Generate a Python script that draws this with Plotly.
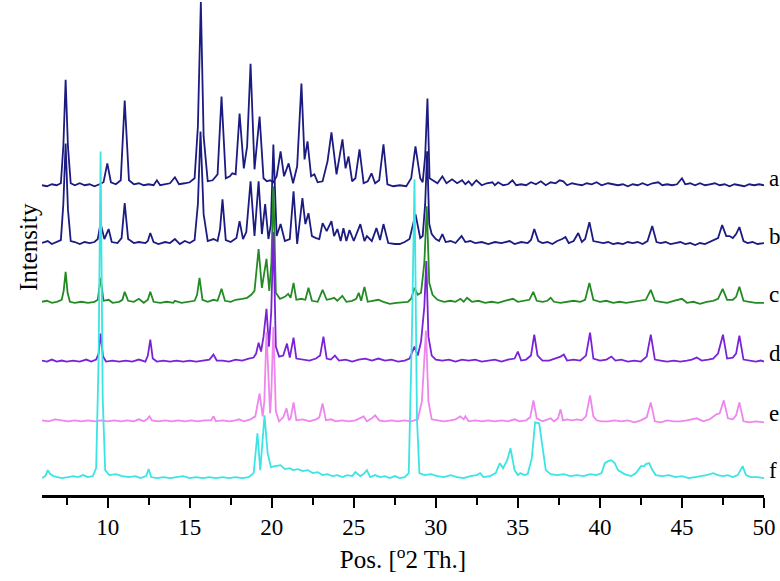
import plotly.graph_objects as go

# XRD patterns, (2theta, relative intensity)
pattern_a = [(6.0,1),(6.3,0),(6.6,2),(6.9,1),(7.15,3),(7.3,40),(7.44,107),(7.58,40),(7.75,3),(8.0,1),(8.3,3),(8.6,1),(8.9,2),(9.2,0),(9.5,2),(9.75,4),(9.98,23),(10.2,4),(10.5,2),(10.8,6),(11.04,86),(11.3,6),(11.6,2),(11.9,3),(12.2,1),(12.5,2),(12.8,1),(13.0,6),(13.2,1),(13.5,2),(13.8,3),(14.1,9),(14.35,2),(14.7,3),(15.0,4),(15.3,8),(15.5,60),(15.68,185),(15.85,50),(16.1,5),(16.4,6),(16.7,12),(16.94,90),(17.2,8),(17.45,10),(17.6,13),(17.8,12),(18.04,73),(18.3,18),(18.5,40),(18.71,123),(18.95,17),(19.26,70),(19.5,8),(19.7,5),(19.9,6),(20.1,4),(20.3,10),(20.54,35),(20.75,10),(21.03,23),(21.3,3),(21.55,20),(21.81,103),(22.0,27),(22.18,45),(22.4,10),(22.6,12),(22.8,4),(23.1,5),(23.4,25),(23.64,54),(23.95,12),(24.31,47),(24.5,18),(24.68,30),(24.9,5),(25.1,8),(25.35,37),(25.6,3),(25.85,5),(26.08,13),(26.3,3),(26.55,6),(26.81,42),(27.05,2),(27.4,0),(27.8,1),(28.2,0),(28.5,8),(28.76,40),(29.05,8),(29.2,4),(29.35,30),(29.49,88),(29.62,8),(29.8,6),(30.1,3),(30.4,10),(30.65,3),(30.99,7),(31.3,3),(31.6,6),(31.8,2),(32.0,5),(32.2,1),(32.47,6),(32.8,1),(33.1,3),(33.45,4),(33.6,1),(33.8,4),(34.1,1),(34.4,2),(34.67,6),(34.9,1),(35.2,2),(35.5,1),(35.8,4),(36.1,2),(36.4,5),(36.7,1),(37.0,4),(37.3,3),(37.55,6),(37.77,5),(38.0,1),(38.3,3),(38.6,2),(38.9,1),(39.2,3),(39.5,2),(39.8,4),(40.1,1),(40.5,3),(40.8,2),(41.1,1),(41.4,2),(41.7,0),(42.0,2),(42.3,1),(42.6,3),(42.9,1),(43.2,3),(43.56,4),(43.8,1),(44.1,2),(44.4,1),(44.7,2),(45.0,8),(45.2,2),(45.5,3),(45.8,1),(46.1,3),(46.4,1),(46.7,2),(47.0,3),(47.3,1),(47.6,2),(47.9,0),(48.2,2),(48.5,1),(48.8,0),(49.1,2),(49.4,1),(49.7,2),(50.0,1)]

pattern_b = [(6.0,1),(6.35,3),(6.6,0),(6.9,2),(7.15,4),(7.3,40),(7.44,101),(7.58,35),(7.75,3),(8.0,2),(8.3,0),(8.6,2),(8.9,1),(9.2,2),(9.4,5),(9.57,21),(9.8,5),(10.06,15),(10.25,2),(10.6,1),(10.85,6),(11.04,41),(11.25,5),(11.6,1),(11.9,2),(12.3,1),(12.45,3),(12.6,11),(12.8,2),(13.1,0),(13.5,2),(13.8,1),(14.1,5),(14.4,0),(14.7,3),(15.0,1),(15.3,4),(15.5,40),(15.66,113),(15.85,30),(16.1,3),(16.45,5),(16.7,3),(16.85,15),(17.0,45),(17.2,4),(17.5,2),(17.85,6),(18.04,23),(18.25,5),(18.45,12),(18.71,63),(18.95,8),(19.2,63),(19.4,10),(19.6,40),(19.8,5),(19.95,20),(20.1,100),(20.3,8),(20.54,20),(20.8,3),(21.1,5),(21.33,53),(21.55,0),(21.87,46),(22.05,20),(22.24,31),(22.45,8),(22.7,6),(22.9,5),(23.1,21),(23.35,13),(23.64,23),(23.8,8),(24.0,15),(24.2,3),(24.37,16),(24.55,3),(24.74,14),(25.0,3),(25.4,20),(25.65,3),(25.8,8),(26.1,3),(26.38,16),(26.6,4),(26.81,20),(27.1,1),(27.5,0),(27.8,0),(28.1,2),(28.4,5),(28.76,30),(29.05,6),(29.2,8),(29.35,40),(29.47,93),(29.6,20),(29.75,10),(30.0,5),(30.2,3),(30.4,10),(30.6,2),(30.9,3),(31.2,1),(31.57,8),(31.8,2),(32.1,3),(32.4,1),(32.8,2),(33.2,0),(33.6,2),(34.0,1),(34.5,3),(34.8,0),(35.2,2),(35.6,1),(35.8,4),(36.0,15),(36.25,3),(36.5,1),(36.8,2),(37.1,0),(37.4,3),(37.7,5),(37.9,7),(38.1,1),(38.4,3),(38.68,11),(38.9,2),(39.1,5),(39.36,22),(39.6,3),(39.9,2),(40.2,1),(40.5,2),(40.8,0),(41.1,1),(41.4,0),(41.7,2),(42.0,1),(42.3,2),(42.6,0),(42.9,3),(43.19,18),(43.45,2),(43.7,1),(44.0,2),(44.3,0),(44.6,1),(44.9,2),(45.2,0),(45.5,1),(45.8,-1),(46.1,1),(46.4,0),(46.7,2),(46.9,4),(47.2,6),(47.45,19),(47.7,8),(47.9,8),(48.1,6),(48.3,10),(48.5,17),(48.75,3),(49.0,1),(49.3,2),(49.6,0),(50.0,1)]

pattern_c = [(6.0,1),(6.3,2),(6.6,0),(6.9,1),(7.2,3),(7.32,12),(7.44,31),(7.56,10),(7.7,1),(8.0,0),(8.4,1),(8.8,0),(9.2,1),(9.4,3),(9.57,25),(9.75,2),(10.06,3),(10.3,0),(10.7,1),(10.9,3),(11.04,11),(11.25,2),(11.6,1),(11.9,4),(12.2,0),(12.45,3),(12.6,11),(12.8,1),(13.2,0),(13.6,1),(14.0,0),(14.1,2),(14.5,0),(14.9,1),(15.3,2),(15.45,8),(15.6,25),(15.78,3),(16.1,1),(16.45,3),(16.7,2),(16.94,14),(17.15,2),(17.5,1),(17.8,3),(18.2,4),(18.5,5),(18.75,8),(18.95,12),(19.2,54),(19.4,15),(19.68,44),(19.85,12),(19.98,40),(20.1,117),(20.25,10),(20.5,4),(20.8,6),(21.0,9),(21.15,5),(21.33,20),(21.5,3),(21.8,4),(22.05,3),(22.24,15),(22.45,2),(22.8,1),(23.1,13),(23.35,3),(23.6,4),(23.8,5),(24.0,2),(24.3,7),(24.55,1),(24.9,2),(25.15,4),(25.3,10),(25.45,2),(25.65,16),(25.85,1),(26.2,2),(26.5,3),(26.8,1),(27.2,-1),(27.6,0),(28.0,1),(28.3,1),(28.5,4),(28.7,15),(28.9,8),(29.1,10),(29.3,40),(29.45,97),(29.6,20),(29.8,8),(30.1,3),(30.5,1),(30.9,2),(31.2,1),(31.5,4),(31.7,1),(31.9,5),(32.2,1),(32.6,2),(33.0,0),(33.4,1),(33.8,0),(34.2,2),(34.7,4),(35.0,1),(35.4,2),(35.7,3),(35.94,11),(36.15,2),(36.5,1),(36.8,2),(37.0,5),(37.2,1),(37.6,0),(38.0,1),(38.4,2),(38.8,1),(39.1,3),(39.36,20),(39.6,3),(40.0,1),(40.4,2),(40.8,0),(41.2,1),(41.6,0),(42.0,1),(42.4,2),(42.8,3),(43.1,13),(43.35,2),(43.7,1),(44.1,0),(44.5,2),(45.0,4),(45.3,0),(45.7,1),(46.1,-1),(46.5,1),(46.9,2),(47.2,4),(47.48,14),(47.75,3),(48.1,3),(48.3,6),(48.5,16),(48.75,2),(49.1,1),(49.5,0),(50.0,0)]

pattern_d = [(6.0,1),(6.3,0),(6.6,2),(6.9,0),(7.2,1),(7.5,0),(7.9,1),(8.3,0),(8.7,2),(9.0,0),(9.3,2),(9.45,8),(9.57,28),(9.72,5),(9.9,0),(10.3,1),(10.7,0),(11.1,1),(11.5,0),(11.9,2),(12.3,0),(12.45,6),(12.6,22),(12.75,3),(13.0,0),(13.4,1),(13.8,0),(14.2,1),(14.6,0),(15.0,1),(15.4,0),(15.8,1),(16.2,2),(16.45,7),(16.65,1),(17.0,1),(17.4,0),(17.8,2),(18.2,1),(18.6,3),(18.9,4),(19.05,8),(19.2,19),(19.35,10),(19.5,25),(19.68,53),(19.83,15),(19.97,50),(20.1,130),(20.25,15),(20.45,5),(20.7,6),(20.93,18),(21.1,4),(21.33,24),(21.5,3),(21.9,2),(22.3,1),(22.7,3),(22.95,6),(23.15,25),(23.35,3),(23.6,2),(23.85,6),(24.1,1),(24.5,2),(24.9,0),(25.3,2),(25.7,3),(26.1,1),(26.5,3),(26.9,1),(27.3,2),(27.7,0),(28.1,1),(28.4,3),(28.7,15),(28.9,6),(29.1,20),(29.3,55),(29.42,101),(29.55,25),(29.75,6),(30.0,2),(30.4,1),(30.8,2),(31.2,0),(31.6,2),(32.0,1),(32.4,2),(32.8,0),(33.2,1),(33.6,2),(34.0,0),(34.4,2),(34.8,3),(35.0,10),(35.2,1),(35.5,2),(35.8,6),(36.0,27),(36.2,6),(36.5,1),(36.9,1),(37.3,3),(37.6,5),(37.8,7),(38.0,1),(38.4,2),(38.8,1),(39.15,6),(39.4,29),(39.6,3),(40.0,1),(40.4,2),(40.7,5),(40.95,1),(41.3,2),(41.7,0),(42.1,1),(42.5,0),(42.85,5),(43.1,27),(43.35,2),(43.7,1),(44.1,0),(44.5,1),(44.9,0),(45.3,1),(45.6,2),(45.9,4),(46.2,1),(46.6,2),(46.9,3),(47.2,8),(47.5,27),(47.75,3),(48.1,4),(48.3,8),(48.5,26),(48.75,2),(49.1,1),(49.5,0),(49.8,1),(50.0,0)]

pattern_e = [(6.0,1),(6.4,0),(6.8,2),(7.2,1),(7.6,0),(8.0,1),(8.4,0),(8.8,1),(9.2,0),(9.6,1),(10.0,0),(10.4,1),(10.8,0),(11.2,1),(11.6,0),(11.9,2),(12.2,0),(12.4,2),(12.55,5),(12.7,1),(13.1,0),(13.5,1),(13.9,0),(14.3,1),(14.7,0),(15.1,1),(15.5,0),(15.9,1),(16.3,1),(16.46,5),(16.6,0),(17.0,1),(17.4,0),(17.8,1),(18.0,2),(18.3,0),(18.7,2),(19.0,5),(19.26,28),(19.45,5),(19.55,20),(19.68,90),(19.82,25),(19.9,8),(19.98,30),(20.1,95),(20.25,10),(20.45,0),(20.7,4),(20.9,13),(21.05,1),(21.15,3),(21.33,19),(21.5,1),(21.9,2),(22.3,0),(22.7,2),(22.9,4),(23.1,18),(23.3,1),(23.6,2),(23.9,0),(24.3,1),(24.7,0),(25.1,1),(25.4,3),(25.6,5),(25.8,0),(26.1,3),(26.3,6),(26.55,1),(26.9,0),(27.3,1),(27.7,0),(28.1,1),(28.5,0),(28.9,2),(29.15,20),(29.4,91),(29.55,20),(29.75,2),(30.1,1),(30.5,0),(30.9,1),(31.2,2),(31.5,5),(31.7,2),(31.8,5),(32.0,0),(32.4,1),(32.8,0),(33.2,1),(33.6,0),(34.0,1),(34.4,0),(34.8,2),(35.1,0),(35.5,1),(35.75,4),(35.95,21),(36.15,3),(36.5,0),(36.8,2),(37.0,3),(37.2,0),(37.45,3),(37.6,12),(37.75,1),(38.0,2),(38.3,1),(38.6,2),(38.9,1),(39.15,5),(39.4,26),(39.6,5),(39.8,1),(40.1,0),(40.5,0),(40.9,1),(41.3,0),(41.7,1),(42.1,-1),(42.5,1),(42.85,4),(43.1,19),(43.35,0),(43.7,-1),(44.1,1),(44.5,0),(44.9,0),(45.3,1),(45.9,3),(46.3,0),(46.7,2),(47.1,7),(47.3,8),(47.55,21),(47.8,3),(48.1,2),(48.3,6),(48.5,19),(48.75,0),(49.1,-1),(49.5,0),(50.0,-1)]

pattern_f = [(6.0,0),(6.2,2),(6.35,8),(6.5,4),(6.7,2),(6.9,1),(7.2,0),(7.6,1),(7.9,2),(8.2,1),(8.5,3),(8.8,1),(9.1,2),(9.3,10),(9.45,120),(9.57,328),(9.7,80),(9.85,8),(10.1,3),(10.5,4),(10.9,2),(11.3,1),(11.7,2),(12.0,0),(12.35,2),(12.5,9),(12.65,1),(13.0,0),(13.4,1),(13.8,0),(14.2,1),(14.6,2),(15.0,0),(15.4,1),(15.8,0),(16.2,1),(16.6,0),(17.0,1),(17.4,0),(17.8,1),(18.2,0),(18.6,1),(18.9,5),(19.13,45),(19.3,8),(19.56,63),(19.75,25),(19.95,11),(20.2,12),(20.54,13),(20.8,9),(21.1,10),(21.3,8),(21.6,9),(21.9,7),(22.2,8),(22.5,5),(22.8,6),(23.1,3),(23.4,4),(23.7,2),(24.0,3),(24.3,1),(24.6,3),(24.9,2),(25.1,6),(25.4,2),(25.6,4),(25.8,8),(26.0,1),(26.3,3),(26.6,1),(26.9,2),(27.2,0),(27.5,2),(27.8,0),(28.1,1),(28.35,5),(28.55,150),(28.7,300),(28.85,60),(29.0,5),(29.3,3),(29.7,4),(30.1,2),(30.5,1),(30.9,3),(31.3,1),(31.7,0),(32.1,2),(32.5,3),(32.7,5),(32.9,1),(33.3,2),(33.65,5),(33.9,15),(34.1,10),(34.35,18),(34.55,30),(34.8,8),(35.0,3),(35.15,5),(35.4,3),(35.6,4),(35.85,20),(36.05,56),(36.3,55),(36.5,30),(36.7,8),(37.0,4),(37.4,3),(37.8,4),(38.2,2),(38.6,3),(39.0,2),(39.4,4),(39.8,3),(40.1,5),(40.3,15),(40.5,17),(40.7,18),(40.9,15),(41.1,8),(41.5,4),(41.9,2),(42.2,5),(42.5,12),(42.7,12),(42.8,14),(43.0,15),(43.2,8),(43.4,3),(43.8,2),(44.2,3),(44.6,1),(45.0,2),(45.4,0),(45.8,1),(46.2,2),(46.5,3),(46.9,5),(47.2,3),(47.5,2),(47.8,3),(48.1,1),(48.4,3),(48.7,12),(48.9,3),(49.2,1),(49.6,1),(50.0,0)]

labels = ['a', 'b', 'c', 'd', 'e', 'f']
patterns = [pattern_a, pattern_b, pattern_c, pattern_d, pattern_e, pattern_f]
offsets = [310, 252, 193, 134, 74, 17]
colors = ['#1b1b82', '#1b1b82', '#238b23', '#7a22d8', '#ee86ee', '#3ce4e4']

FONT = 'Liberation Serif'

fig = go.Figure()

for lab, pat, off, col in zip(labels, patterns, offsets, colors):
    xs = [p[0] for p in pat]
    ys = [p[1] + off for p in pat]
    fig.add_trace(go.Scatter(x=xs, y=ys, mode='lines', name=lab,
                             line=dict(color=col, width=1.8), hoverinfo='skip'))
    fig.add_annotation(x=1.0, xref='paper', xshift=3, xanchor='left',
                       y=off + 8, yref='y', yanchor='middle', text=lab,
                       showarrow=False, font=dict(family=FONT, size=23, color='black'))

fig.add_annotation(x=0, xref='paper', xshift=-29, y=0.5, yref='paper',
                   text='Intensity', textangle=-90, showarrow=False,
                   font=dict(family=FONT, size=25, color='black'))

fig.update_layout(
    width=780, height=581,
    showlegend=False,
    plot_bgcolor='white', paper_bgcolor='white',
    margin=dict(l=42, r=16, t=0, b=86),
    xaxis=dict(range=[6, 50], tickvals=[10, 15, 20, 25, 30, 35, 40, 45, 50],
               ticks='outside', ticklen=10, tickwidth=2, tickcolor='black',
               minor=dict(tickvals=[7.5, 12.5, 17.5, 22.5, 27.5, 32.5, 37.5, 42.5, 47.5],
                          ticks='outside', ticklen=7, tickwidth=2, tickcolor='black'),
               showline=True, linewidth=2.5, linecolor='black', showgrid=False, zeroline=False,
               tickfont=dict(family=FONT, size=23, color='black'),
               title=dict(text='Pos. [<sup>o</sup>2 Th.]', standoff=12,
                          font=dict(family=FONT, size=25, color='black'))),
    yaxis=dict(range=[0, 497], showticklabels=False, showgrid=False, zeroline=False,
               showline=False, ticks=''),
)

# page has a default 8px body margin; drop it so the figure sits at 0,0
fig.write_html("out.html", config={'displayModeBar': False},
               post_script="document.body.style.margin='0px';")
